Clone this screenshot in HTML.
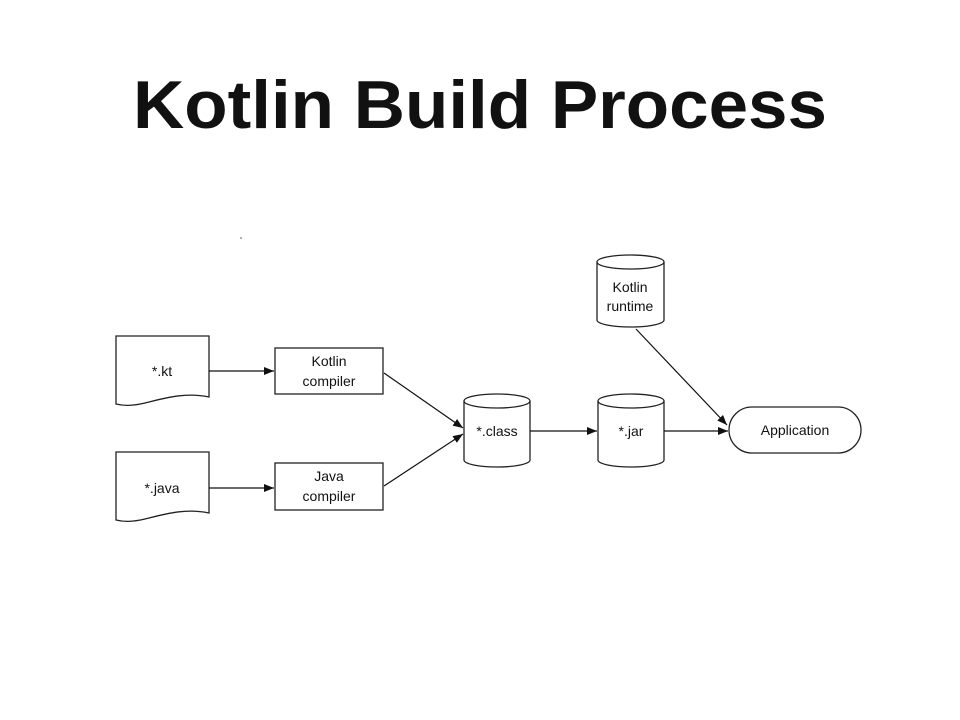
<!DOCTYPE html>
<html><head><style>body{margin:0;background:#fff}svg{display:block}</style></head><body>
<svg width="960" height="720" xmlns="http://www.w3.org/2000/svg" font-family="Liberation Sans, Arial, sans-serif">
<defs><marker id="a" markerWidth="10" markerHeight="8" refX="10" refY="4" orient="auto" markerUnits="userSpaceOnUse"><path d="M0,0 L10,4 L0,8 z" fill="#111"/></marker></defs>
<text x="480" y="128" text-anchor="middle" font-size="68" font-weight="bold" fill="#111" textLength="694" lengthAdjust="spacingAndGlyphs">Kotlin Build Process</text>
<circle cx="241" cy="238" r="0.8" fill="#555"/>
<g fill="none" stroke="#222" stroke-width="1.3">
<path d="M116,336 H209 V397 C185,392 165,398 145,403 C132,406 124,406 116,404 Z" fill="#fff"/>
<path d="M116,452 H209 V513 C185,508 165,514 145,519 C132,522 124,522 116,520 Z" fill="#fff"/>
<rect x="275" y="348" width="108" height="46"/>
<rect x="275" y="463" width="108" height="47"/>
<path d="M464,401 V460 A33,7 0 0 0 530,460 V401"/><ellipse cx="497" cy="401" rx="33" ry="7"/>
<path d="M598,401 V460 A33,7 0 0 0 664,460 V401"/><ellipse cx="631" cy="401" rx="33" ry="7"/>
<path d="M597,262 V320 A33.5,7 0 0 0 664,320 V262"/><ellipse cx="630.5" cy="262" rx="33.5" ry="7"/>
<rect x="729" y="407" width="132" height="46" rx="23"/>
</g>
<g stroke="#111" stroke-width="1.2" marker-end="url(#a)">
<line x1="209" y1="371" x2="274" y2="371"/>
<line x1="209" y1="488" x2="274" y2="488"/>
<line x1="384" y1="373" x2="463" y2="428"/>
<line x1="384" y1="486" x2="463" y2="434"/>
<line x1="530" y1="431" x2="597" y2="431"/>
<line x1="664" y1="431" x2="728" y2="431"/>
<line x1="636" y1="329" x2="727" y2="425"/>
</g>
<g font-size="14" fill="#111" text-anchor="middle">
<text x="162" y="376">*.kt</text>
<text x="162" y="493">*.java</text>
<text x="329" y="366">Kotlin</text><text x="329" y="386">compiler</text>
<text x="329" y="481">Java</text><text x="329" y="501">compiler</text>
<text x="497" y="436">*.class</text>
<text x="631" y="436">*.jar</text>
<text x="630" y="292">Kotlin</text><text x="630" y="311">runtime</text>
<text x="795" y="435">Application</text>
</g>
</svg>
</body></html>
